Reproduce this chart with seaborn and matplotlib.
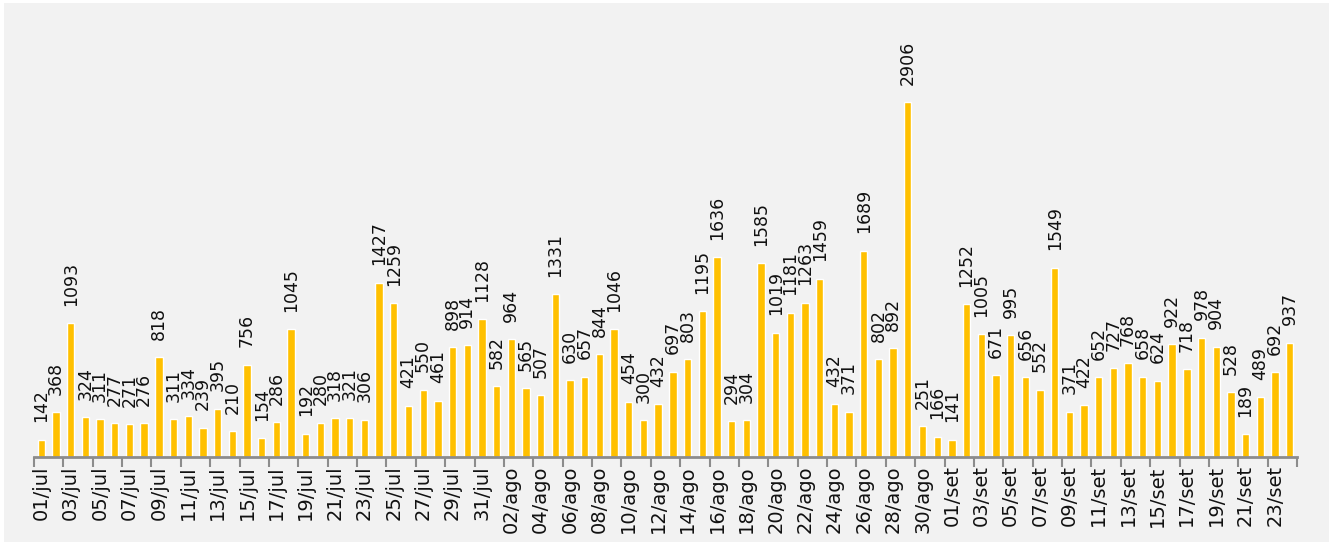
import matplotlib
matplotlib.use("Agg")
import matplotlib.pyplot as plt
from matplotlib.patches import Rectangle
import seaborn as sns
import pandas as pd
import numpy as np

# ---- data ----
jul_values = [142, 368, 1093, 324, 311, 277, 271, 276, 818, 311, 334, 239, 395, 210, 756,
              154, 286, 1045, 192, 280, 318, 321, 306, 1427, 1259, 421, 550, 461, 898, 914, 1128]
ago_values = [582, 964, 565, 507, 1331, 630, 657, 844, 1046, 454, 300, 432, 697, 803, 1195,
              1636, 294, 304, 1585, 1019, 1181, 1263, 1459, 432, 371, 1689, 802, 892, 2906, 251, 166]
set_values = [141, 1252, 1005, 671, 995, 656, 552, 1549, 371, 422, 652, 727, 768, 658, 624,
              922, 718, 978, 904, 528, 189, 489, 692, 937]

jul_days = [f"{d:02d}/jul" for d in range(1, 32)]
ago_days = [f"{d:02d}/ago" for d in range(1, 32)]
set_days = [f"{d:02d}/set" for d in range(1, 25)]

days = jul_days + ago_days + set_days
values = jul_values + ago_values + set_values

df = pd.DataFrame({"dia": days, "casos": values})

# ---- style ----
sns.set_theme(style="white")
plt.rcParams["font.family"] = ["DejaVu Sans"]

BG = "#f2f2f2"
BAR = "#FFC000"
AXIS = "#8c8c8c"

fig = plt.figure(figsize=(13.3, 5.42), dpi=100, facecolor="white")
fig.patches.append(Rectangle((4 / 1330, 0), 1325 / 1330, 539 / 542,
                             transform=fig.transFigure, facecolor=BG,
                             edgecolor="none", zorder=-10))

ax = fig.add_axes([34 / 1330, 1 - 457 / 542, (1297 - 34) / 1330, 454 / 542])
ax.set_facecolor(BG)
ax.patch.set_alpha(0)

sns.barplot(data=df, x="dia", y="casos", order=days, color=BAR, width=0.5,
            saturation=1, ax=ax)

n = len(days)
ax.set_xlim(-0.5, n - 0.5)
ax.set_ylim(0, 2906 * 454 / 355)

# value labels
for i, v in enumerate(values):
    ax.annotate(str(v), xy=(i, v), xytext=(0, 12.5), textcoords="offset points",
                rotation=90, ha="center", va="bottom", fontsize=12.5, color="#111111")

# ticks
major = list(range(0, n, 2))
ax.set_xticks(major)
ax.set_xticklabels([days[i] for i in major], rotation=90, fontsize=14, color="#111111")
ax.set_xticks(np.arange(-0.5, n, 2), minor=True)
ax.tick_params(axis="x", which="major", length=0, pad=6)
ax.tick_params(axis="x", which="minor", length=7, width=1.5, color=AXIS, bottom=True)
ax.set_yticks([])
ax.set_xlabel("")
ax.set_ylabel("")

for s in ["top", "left", "right"]:
    ax.spines[s].set_visible(False)
ax.spines["bottom"].set_color(AXIS)
ax.spines["bottom"].set_linewidth(2)

fig.savefig("out.png", dpi=100, facecolor="white")
